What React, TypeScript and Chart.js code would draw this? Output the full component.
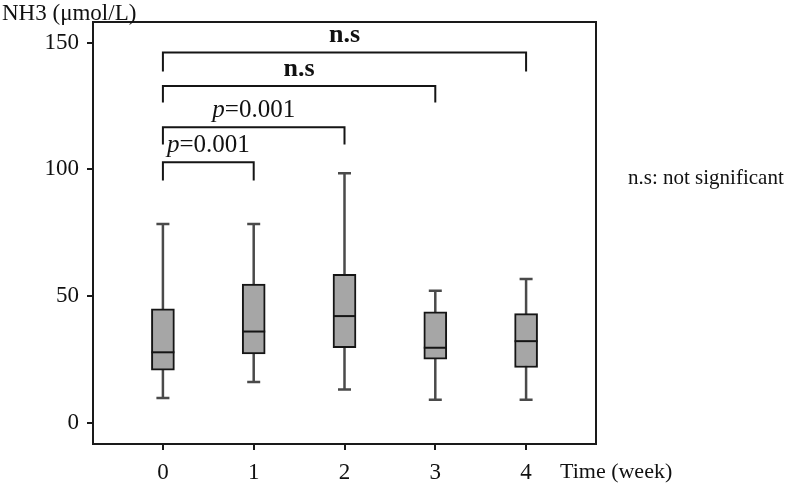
import React, { useEffect, useRef } from "react";
import { Chart, registerables } from "chart.js";

Chart.register(...registerables);

const weeks = [0, 1, 2, 3, 4];
const whiskerLow = [9.8, 16.1, 13.1, 9.1, 9.1];
const q1 = [20.7, 27.2, 29.6, 25.1, 21.8];
const median = [27.8, 36.0, 42.1, 29.6, 32.2];
const q3 = [45.0, 54.7, 58.6, 43.8, 43.1];
const whiskerHigh = [78.5, 78.5, 98.5, 52.1, 56.7];
const yTicks = [0, 50, 100, 150];

const bracketFrom = [0, 0, 0, 0];
const bracketTo = [1, 2, 3, 4];
const bracketTop = [102.8, 116.6, 132.9, 146.2];
const bracketLegEnd = [95.6, 109.8, 126.4, 138.7];
const bracketLabels = ["p=0.001", "p=0.001", "n.s", "n.s"];

const SERIF = "'Liberation Serif', 'Times New Roman', serif";
const INK = "#111111";

const extrasPlugin = {
  id: "boxExtras",
  beforeDatasetsDraw(chart: any) {
    const { ctx, scales } = chart;
    const x = scales.x;
    const y = scales.y;
    ctx.save();
    ctx.strokeStyle = "#4a4a4a";
    ctx.lineWidth = 2.5;
    weeks.forEach((w, i) => {
      const px = x.getPixelForValue(w);
      const yLo = y.getPixelForValue(whiskerLow[i]);
      const yHi = y.getPixelForValue(whiskerHigh[i]);
      ctx.beginPath();
      ctx.moveTo(px, yLo);
      ctx.lineTo(px, yHi);
      ctx.moveTo(px - 6.5, yLo);
      ctx.lineTo(px + 6.5, yLo);
      ctx.moveTo(px - 6.5, yHi);
      ctx.lineTo(px + 6.5, yHi);
      ctx.stroke();
    });
    ctx.restore();
  },
  afterDatasetsDraw(chart: any) {
    const { ctx, scales, chartArea } = chart;
    const x = scales.x;
    const y = scales.y;
    const meta = chart.getDatasetMeta(0);
    ctx.save();
    // medians
    ctx.strokeStyle = "#151515";
    ctx.lineWidth = 2;
    weeks.forEach((w, i) => {
      const bar = meta.data[i];
      const half = bar.width / 2;
      const px = x.getPixelForValue(w);
      const py = y.getPixelForValue(median[i]);
      ctx.beginPath();
      ctx.moveTo(px - half, py);
      ctx.lineTo(px + half, py);
      ctx.stroke();
    });
    // brackets
    ctx.strokeStyle = "#151515";
    ctx.lineWidth = 2;
    bracketTop.forEach((top, i) => {
      const x0 = x.getPixelForValue(bracketFrom[i]);
      const x1 = x.getPixelForValue(bracketTo[i]);
      const yt = y.getPixelForValue(top);
      const yl = y.getPixelForValue(bracketLegEnd[i]);
      ctx.beginPath();
      ctx.moveTo(x0, yl);
      ctx.lineTo(x0, yt);
      ctx.lineTo(x1, yt);
      ctx.lineTo(x1, yl);
      ctx.stroke();
      const cx = (x0 + x1) / 2;
      const by = yt - 10;
      ctx.fillStyle = INK;
      ctx.textBaseline = "alphabetic";
      const label = bracketLabels[i];
      if (label.startsWith("p")) {
        const rest = label.slice(1);
        ctx.font = `italic 25px ${SERIF}`;
        const wp = ctx.measureText("p").width;
        ctx.font = `25px ${SERIF}`;
        const wr = ctx.measureText(rest).width;
        const start = cx - (wp + wr) / 2;
        ctx.textAlign = "left";
        ctx.font = `italic 25px ${SERIF}`;
        ctx.fillText("p", start, by);
        ctx.font = `25px ${SERIF}`;
        ctx.fillText(rest, start + wp, by);
      } else {
        ctx.font = `bold 26px ${SERIF}`;
        ctx.textAlign = "center";
        ctx.fillText(label, cx, by);
      }
    });
    // frame top and right
    ctx.strokeStyle = "#1a1a1a";
    ctx.lineWidth = 2;
    ctx.beginPath();
    ctx.moveTo(chartArea.left, chartArea.top);
    ctx.lineTo(chartArea.right, chartArea.top);
    ctx.lineTo(chartArea.right, chartArea.bottom);
    ctx.stroke();
    // texts
    ctx.fillStyle = INK;
    ctx.textAlign = "left";
    ctx.textBaseline = "alphabetic";
    ctx.font = `23px ${SERIF}`;
    ctx.fillText("NH3 (\u03bcmol/L)", 2, 20);
    ctx.font = `22px ${SERIF}`;
    ctx.fillText("Time (week)", 560, 478);
    ctx.font = `21px ${SERIF}`;
    ctx.fillText("n.s: not significant", 628, 184);
    ctx.restore();
  },
};

export default function App() {
  const ref = useRef<HTMLCanvasElement | null>(null);
  useEffect(() => {
    document.body.style.margin = "0";
    const canvas = ref.current;
    if (!canvas) return;
    const chart = new Chart(canvas, {
      type: "bar",
      data: {
        datasets: [
          {
            data: weeks.map((w, i) => ({ x: w, y: [q1[i], q3[i]] })) as any,
            backgroundColor: "#a6a6a6",
            borderColor: "#151515",
            borderWidth: 2,
            borderSkipped: false,
            barThickness: 23,
          },
        ],
      },
      options: {
        animation: false,
        responsive: false,
        devicePixelRatio: 1,
        layout: { padding: { top: 22, right: 200, left: 0, bottom: 0 } },
        plugins: { legend: { display: false }, tooltip: { enabled: false } },
        scales: {
          x: {
            type: "linear",
            offset: false,
            min: -0.77,
            max: 4.77,
            afterBuildTicks: (s: any) => {
              s.ticks = weeks.map((v) => ({ value: v }));
            },
            afterFit: (s: any) => {
              s.height = 41;
            },
            grid: {
              display: true,
              offset: false,
              drawOnChartArea: false,
              drawTicks: true,
              tickLength: 6,
              color: "#1a1a1a",
              lineWidth: 2,
            },
            border: { display: true, color: "#1a1a1a", width: 2 },
            ticks: {
              color: INK,
              font: { family: SERIF, size: 23 },
              padding: 9,
              maxRotation: 0,
              callback: (v: any) => String(v),
            },
          },
          y: {
            type: "linear",
            min: -8.4,
            max: 158.2,
            afterBuildTicks: (s: any) => {
              s.ticks = yTicks.map((v) => ({ value: v }));
            },
            afterFit: (s: any) => {
              s.width = 93;
            },
            grid: {
              display: true,
              drawOnChartArea: false,
              drawTicks: true,
              tickLength: 6,
              color: "#1a1a1a",
              lineWidth: 2,
            },
            border: { display: true, color: "#1a1a1a", width: 2 },
            ticks: {
              color: INK,
              font: { family: SERIF, size: 23 },
              padding: 8,
              callback: (v: any) => String(v),
            },
          },
        },
      },
      plugins: [extrasPlugin],
    });
    return () => chart.destroy();
  }, []);
  return (
    <div style={{ width: 796, height: 485 }}>
      <canvas ref={ref} width={796} height={485} />
    </div>
  );
}
